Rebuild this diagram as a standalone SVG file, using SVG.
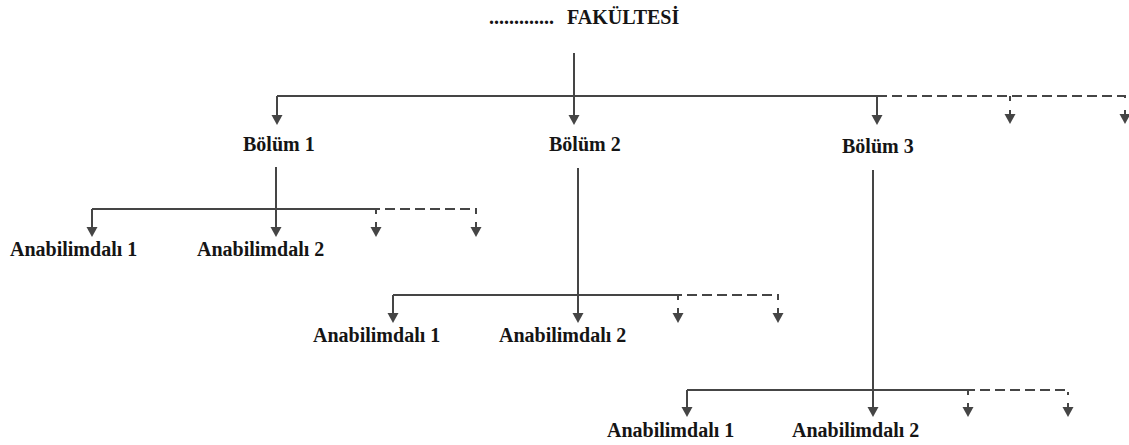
<svg xmlns="http://www.w3.org/2000/svg" width="1129" height="445" viewBox="0 0 1129 445">
  <style>
    .t { font-family: "Liberation Serif", "Times New Roman", serif; font-weight: bold; font-size: 20px; fill: #151515; }
    .ln { fill: none; stroke: #454545; stroke-width: 2; }
    .ar { fill: none; stroke: #454545; stroke-width: 2; marker-end: url(#ah); }
    .ds { fill: none; stroke: #454545; stroke-width: 2; stroke-dasharray: 10 5; }
  </style>
  <defs>
    <marker id="ah" markerUnits="userSpaceOnUse" markerWidth="12" markerHeight="12" refX="5" refY="5.5" orient="auto" viewBox="0 0 12 12">
      <path d="M0,0 L10,5.5 L0,11 z" fill="#454545"/>
    </marker>
  </defs>
  <rect width="1129" height="445" fill="#ffffff"/>

  <g id="connectors">
    <!-- Faculty to departments -->
    <path class="ar" d="M574,53 V120"/>
    <path class="ln" d="M277,96 H877"/>
    <path class="ar" d="M277,96 V120"/>
    <path class="ar" d="M877,96 V120"/>
    <path class="ds" d="M877,96 H1125 V101"/>
    <path class="ln" d="M1010,96 V101"/>
    <path class="ar" d="M1010,110 V119"/>
    <path class="ar" d="M1125,110 V119"/>

    <!-- Bölüm 1 -->
    <path class="ln" d="M276,167 V209"/>
    <path class="ln" d="M92,209 H370"/>
    <path class="ar" d="M92,209 V232"/>
    <path class="ar" d="M276,209 V232"/>
    <path class="ds" d="M370,209 H476 V214"/>
    <path class="ln" d="M376,209 V214"/>
    <path class="ar" d="M376,222 V232"/>
    <path class="ar" d="M476,222 V232"/>

    <!-- Bölüm 2 -->
    <path class="ln" d="M578,168 V295"/>
    <path class="ln" d="M393,295 H672"/>
    <path class="ar" d="M393,295 V318"/>
    <path class="ar" d="M578,295 V318"/>
    <path class="ds" d="M672,295 H778 V300"/>
    <path class="ln" d="M678,295 V300"/>
    <path class="ar" d="M678,308 V318"/>
    <path class="ar" d="M778,308 V318"/>

    <!-- Bölüm 3 -->
    <path class="ln" d="M873,170 V390"/>
    <path class="ln" d="M687,390 H965"/>
    <path class="ar" d="M687,390 V412"/>
    <path class="ar" d="M873,390 V412"/>
    <path class="ds" d="M965,390 H1068 V395"/>
    <path class="ln" d="M968,390 V395"/>
    <path class="ar" d="M968,403 V412"/>
    <path class="ar" d="M1068,403 V412"/>
  </g>

  <g id="fakulte">
    <text class="t" y="24"><tspan x="489">.............</tspan><tspan x="567">FAKÜLTESİ</tspan></text>
  </g>

  <g id="bolum1"><text class="t" x="243" y="151">Bölüm 1</text></g>
  <g id="bolum2"><text class="t" x="549" y="151">Bölüm 2</text></g>
  <g id="bolum3"><text class="t" x="842" y="153">Bölüm 3</text></g>

  <g id="b1-abd1"><text class="t" x="10" y="256">Anabilimdalı 1</text></g>
  <g id="b1-abd2"><text class="t" x="197" y="256">Anabilimdalı 2</text></g>

  <g id="b2-abd1"><text class="t" x="313" y="342">Anabilimdalı 1</text></g>
  <g id="b2-abd2"><text class="t" x="499" y="342">Anabilimdalı 2</text></g>

  <g id="b3-abd1"><text class="t" x="607" y="437">Anabilimdalı 1</text></g>
  <g id="b3-abd2"><text class="t" x="792" y="437">Anabilimdalı 2</text></g>
</svg>
